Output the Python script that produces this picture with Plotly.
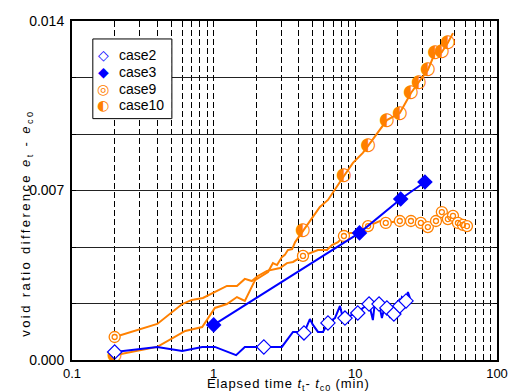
import plotly.graph_objects as go

# ---- data: elapsed time t_t - t_c0 (min) and void ratio difference e_t - e_c0 ----
case2_t = [0.2, 0.4, 0.6, 0.83, 1.02, 1.44, 1.66, 2.26, 3.03, 3.63, 3.94, 4.34, 4.78, 5.02,
           5.45, 5.91, 6.41, 7.18, 7.79, 8.17, 8.45, 9.46, 10.4, 11.3, 12.5, 13.3, 13.7,
           14.7, 15.4, 16.2, 16.7, 17.5, 18.7, 20.6, 21.3, 22.8, 23.5, 24.3]
case2_e = [0.00033, 0.00054, 0.00037, 0.00054, 0.00054, 0.00020, 0.00054, 0.00054, 0.00054,
           0.00116, 0.00116, 0.00112, 0.00169, 0.00145, 0.00116, 0.00116, 0.00153, 0.00173,
           0.00223, 0.00173, 0.00173, 0.00186, 0.00194, 0.00215, 0.00231, 0.00165, 0.00231,
           0.00231, 0.00173, 0.00227, 0.00215, 0.00178, 0.00190, 0.00223, 0.00260, 0.00244,
           0.00281, 0.00256]
case2_marked = [0, 7, 11, 16, 20, 22, 24, 27, 30, 32, 33, 35]

case3_t = [1.0, 10.7, 20.9, 31.0]
case3_e = [0.00145, 0.00525, 0.00665, 0.00735]

case9_t = [0.2, 0.4, 0.6, 0.7, 0.84, 1.02, 1.24, 1.46, 1.66, 1.86, 2.05, 2.38, 2.58, 2.94,
           3.29, 3.63, 4.27, 4.78, 5.45, 6.3, 6.84, 7.54, 8.31, 9.16, 10.2, 12.3, 14.9, 16.4,
           20.6, 24.7, 29.0, 32.5, 37.1, 40.8, 45.0, 48.9, 53.0, 57.5, 61.4]
case9_e = [0.00095, 0.00149, 0.00231, 0.00248, 0.00256, 0.00281, 0.00306, 0.00306, 0.00335,
           0.00326, 0.00347, 0.00368, 0.00372, 0.00380, 0.00400, 0.00405, 0.00430, 0.00442,
           0.00454, 0.00454, 0.00475, 0.00487, 0.00512, 0.00525, 0.00525, 0.00553, 0.00574,
           0.00566, 0.00574, 0.00574, 0.00566, 0.00549, 0.00574, 0.00611, 0.00582, 0.00595,
           0.00566, 0.00558, 0.00553]
case9_marked = [0, 16, 22, 25, 27, 28, 29, 30, 31, 32, 33, 34, 35, 36, 37, 38]

case10_t = [0.2, 0.4, 0.63, 0.83, 1.02, 1.24, 1.46, 1.66, 1.96, 2.42, 2.62, 2.80, 3.03, 3.18,
            3.34, 3.58, 3.76, 4.27, 5.02, 5.62, 6.41, 7.18, 8.31, 9.62, 11.3, 12.3, 14.4,
            16.7, 20.6, 24.7, 28.1, 32.5, 36.5, 40.8, 45.0, 48.9]
case10_e = [0.00020, 0.00054, 0.00120, 0.00136, 0.00215, 0.00231, 0.00260, 0.00244, 0.00330,
            0.00363, 0.00400, 0.00392, 0.00425, 0.00434, 0.00454, 0.00458, 0.00487, 0.00533,
            0.00591, 0.00632, 0.00661, 0.00702, 0.00760, 0.00814, 0.00855, 0.00884, 0.00938,
            0.00991, 0.01020, 0.01103, 0.01148, 0.01198, 0.01268, 0.01272, 0.01310, 0.01350]
case10_marked = [0, 17, 22, 25, 27, 28, 29, 30, 31, 32, 33, 34]

series_names = ["case2", "case3", "case9", "case10"]
x_ticks = [0.1, 1, 10, 100]
x_ticklabels = ["0.1", "1", "10", "100"]
y_ticks = [0.0, 0.007, 0.014]
y_ticklabels = ["0.000", "0.007", "0.014"]

BLUE = "#0000ff"
ORANGE = "#ff8000"
FONT = "Arial, 'Liberation Sans', sans-serif"
SYMBOL_FONT = "'DejaVu Sans'"


def pick(values, idx):
    return [values[i] for i in idx]


fig = go.Figure()

# case9: line plus double-ring markers (outer ring + inner ring)
fig.add_trace(go.Scatter(x=case9_t, y=case9_e, mode="lines",
                         line=dict(color=ORANGE, width=2)))
fig.add_trace(go.Scatter(x=pick(case9_t, case9_marked), y=pick(case9_e, case9_marked),
                         mode="markers",
                         marker=dict(symbol="circle", size=11, color="white",
                                     line=dict(color=ORANGE, width=1.3))))
fig.add_trace(go.Scatter(x=pick(case9_t, case9_marked), y=pick(case9_e, case9_marked),
                         mode="markers",
                         marker=dict(symbol="circle-open", size=5, color=ORANGE,
                                     line=dict(color=ORANGE, width=1.3))))

# case10: line plus half-filled circle markers
fig.add_trace(go.Scatter(x=case10_t, y=case10_e, mode="lines",
                         line=dict(color=ORANGE, width=2)))
fig.add_trace(go.Scatter(x=pick(case10_t, case10_marked), y=pick(case10_e, case10_marked),
                         mode="text", text=["\u25D0"] * len(case10_marked),
                         textposition="middle center",
                         textfont=dict(family=SYMBOL_FONT, size=18, color=ORANGE)))

# case3: straight segments with filled diamonds
fig.add_trace(go.Scatter(x=case3_t, y=case3_e, mode="lines+markers",
                         line=dict(color=BLUE, width=2),
                         marker=dict(symbol="diamond", size=12, color=BLUE)))

# case2: dense line with open diamonds
fig.add_trace(go.Scatter(x=case2_t, y=case2_e, mode="lines",
                         line=dict(color=BLUE, width=2)))
fig.add_trace(go.Scatter(x=pick(case2_t, case2_marked), y=pick(case2_e, case2_marked),
                         mode="markers",
                         marker=dict(symbol="diamond", size=11, color="white",
                                     line=dict(color=BLUE, width=1.2))))

grid_dash = "6px,3px"
x_minor = [m * 10.0 ** d for d in (-1, 0, 1) for m in range(2, 10)]
y_grid = [i * 0.014 / 6 for i in range(1, 6)]

fig.update_xaxes(type="log", range=[-1, 2], tickmode="array",
                 tickvals=x_ticks, ticktext=x_ticklabels, automargin=False,
                 ticks="inside", ticklen=5, tickcolor="black",
                 showline=True, linewidth=2, linecolor="black", mirror="ticks",
                 showgrid=True, gridcolor="black", gridwidth=1, griddash=grid_dash,
                 minor=dict(tickmode="array", tickvals=x_minor, ticks="inside", ticklen=4,
                            tickcolor="black", showgrid=True, gridcolor="black",
                            gridwidth=1, griddash=grid_dash),
                 zeroline=False, tickfont=dict(size=13))

fig.update_yaxes(range=[0, 0.014], tickmode="array",
                 tickvals=y_ticks, ticktext=y_ticklabels, automargin=False,
                 ticks="inside", ticklen=4, tickcolor="black",
                 showline=True, linewidth=2, linecolor="black", mirror="ticks",
                 showgrid=True, gridcolor="#222222", gridwidth=1,
                 minor=dict(tickmode="array", tickvals=y_grid, ticks="inside", ticklen=4,
                            tickcolor="black", showgrid=True, gridcolor="#222222",
                            gridwidth=1),
                 zeroline=False, tickfont=dict(size=14), ticklabelstandoff=3)

# axis titles
fig.add_annotation(xref="paper", yref="paper", x=0.51, y=0, yanchor="top", yshift=-14,
                   showarrow=False, font=dict(size=13),
                   text="<span style='letter-spacing:0.9px'>Elapsed time <i>t</i><sub>t</sub>- "
                        "<i>t</i><sub>c0</sub> (min)</span>")
fig.add_annotation(xref="paper", yref="paper", x=-0.106, y=0.405, textangle=-90,
                   xanchor="center", yanchor="middle", showarrow=False, font=dict(size=13),
                   text="<span style='letter-spacing:2.4px'>void ratio difference "
                        "<i>e</i><sub>t</sub> - <i>e</i><sub>c0</sub></span>")

# legend box with symbols and labels
legend_symbols = ["\u25C7", "\u25C6", "\u25CE", "\u25D0"]
legend_colors = [BLUE, BLUE, ORANGE, ORANGE]
fig.add_shape(type="rect", xref="paper", yref="paper", x0=0.049, x1=0.235, y0=0.712, y1=0.947,
              fillcolor="white", line=dict(color="black", width=1), layer="above")
row_y = [0.900, 0.850, 0.800, 0.752]
for name, sym, col, yy in zip(series_names, legend_symbols, legend_colors, row_y):
    fig.add_annotation(xref="paper", yref="paper", x=0.073, y=yy, xanchor="center",
                       yanchor="middle", showarrow=False, text=sym,
                       font=dict(family=SYMBOL_FONT, size=14, color=col))
    fig.add_annotation(xref="paper", yref="paper", x=0.105, y=yy, xanchor="left",
                       yanchor="middle", showarrow=False, text=name,
                       font=dict(size=14, color="black"))

fig.update_layout(width=508, height=392, margin=dict(l=72, r=11, t=21, b=32),
                  plot_bgcolor="white", paper_bgcolor="white", showlegend=False,
                  font=dict(family=FONT, size=14, color="black"))

fig.write_html("out.html")
